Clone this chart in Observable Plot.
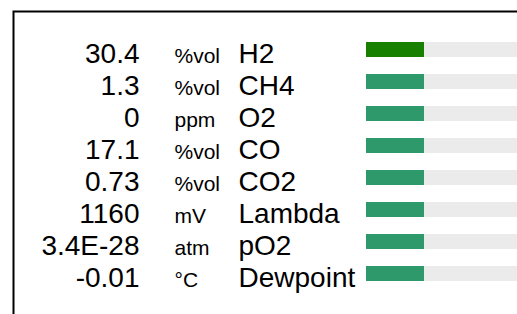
<!DOCTYPE html>
<html>
<head>
<meta charset="utf-8">
<script src="https://cdn.jsdelivr.net/npm/d3@7"></script>
<script src="https://cdn.jsdelivr.net/npm/@observablehq/plot@0.6"></script>
<style>
  html, body { margin: 0; padding: 0; background: #fff; overflow: hidden; }
  #chart { width: 517px; height: 314px; overflow: hidden; }
</style>
</head>
<body>
<div id="chart"></div>
<script>
const labels = ["H2", "CH4", "O2", "CO", "CO2", "Lambda", "pO2", "Dewpoint"];
const readings = ["30.4", "1.3", "0", "17.1", "0.73", "1160", "3.4E-28", "-0.01"];
const units = ["%vol", "%vol", "ppm", "%vol", "%vol", "mV", "atm", "°C"];
const levels = [25, 25, 25, 25, 25, 25, 25, 25];
const status = ["high", "normal", "normal", "normal", "normal", "normal", "normal", "normal"];

const rows = labels.map((label, i) => ({
  label, reading: readings[i], unit: units[i], level: levels[i], status: status[i]
}));

const font = "'Liberation Sans', Arial, Helvetica, sans-serif";

const chart = Plot.plot({
  width: 540,
  height: 340,
  marginLeft: 13,
  marginTop: 11,
  marginRight: 0,
  marginBottom: 0,
  style: { fontFamily: font, overflow: "visible", maxWidth: "none", background: "#fff" },
  x: { domain: [0, 100], range: [366, 598], axis: null },
  y: { type: "band", domain: labels, range: [33.5, 289.5], padding: 0, axis: null },
  color: { domain: ["high", "normal"], range: ["#178000", "#2e9a6c"] },
  marks: [
    Plot.frame({ stroke: "#000", strokeWidth: 2 }),
    Plot.barX(rows, { y: "label", x1: 0, x2: 100, fill: "#ebebeb", insetTop: 8, insetBottom: 9 }),
    Plot.barX(rows, { y: "label", x1: 0, x2: "level", fill: "status", insetTop: 8, insetBottom: 9 }),
    Plot.text(rows, { y: "label", text: "reading", frameAnchor: "left", dx: 126, dy: 12.5,
      textAnchor: "end", lineAnchor: "bottom", fontSize: 28, fill: "#000" }),
    Plot.text(rows, { y: "label", text: "unit", frameAnchor: "left", dx: 161, dy: 12.5,
      textAnchor: "start", lineAnchor: "bottom", fontSize: 21, fill: "#000" }),
    Plot.text(rows, { y: "label", text: "label", frameAnchor: "left", dx: 225, dy: 12.5,
      textAnchor: "start", lineAnchor: "bottom", fontSize: 28, fill: "#000" })
  ]
});
document.getElementById("chart").appendChild(chart);
</script>
</body>
</html>
